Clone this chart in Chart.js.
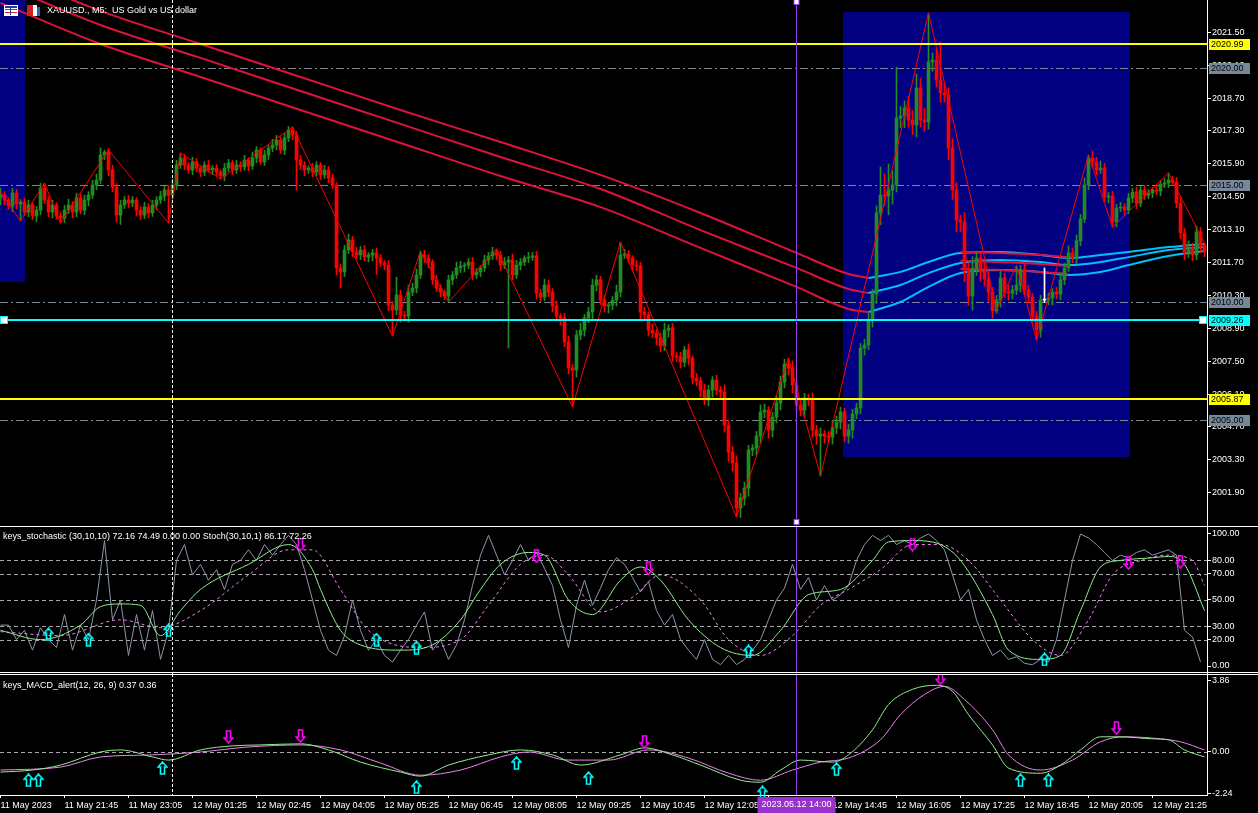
<!DOCTYPE html>
<html>
<head>
<meta charset="utf-8">
<script src="https://cdn.jsdelivr.net/npm/chart.js@4.4.1/dist/chart.umd.min.js"></script>
<style>
html, body { margin: 0; padding: 0; background: #000; width: 1258px; height: 813px; overflow: hidden; }
.pane { position: absolute; left: 0; width: 1258px; }
canvas { display: block; }
</style>
</head>
<body>
<div class="pane" style="top:0;height:527px"><canvas id="mainChart" width="1258" height="527"></canvas></div>
<div class="pane" style="top:527px;height:147px"><canvas id="stochChart" width="1258" height="147"></canvas></div>
<div class="pane" style="top:674px;height:139px"><canvas id="macdChart" width="1258" height="139"></canvas></div>
<script>
// XAUUSD M5, 11 May 20:25 -> 12 May 22:30, one entry per bar
const closes = [
  2014.57,2014.36,2014.11,2014.66,2014.19,2014.28,2013.85,2014.15,2013.68,2013.93,
  2014.87,2014.36,2013.85,2014.15,2013.68,2013.59,2013.93,2014.15,2013.85,2014.45,
  2013.93,2014.36,2014.57,2015.00,2015.21,2016.28,2016.40,2015.64,2014.91,2013.72,
  2014.15,2014.36,2014.23,2014.36,2013.93,2013.72,2014.06,2013.81,2014.15,2014.36,
  2014.53,2014.79,2014.57,2015.00,2015.85,2016.15,2015.85,2015.64,2015.98,2015.72,
  2015.55,2015.85,2015.64,2015.72,2015.55,2015.38,2015.72,2015.94,2015.64,2015.85,
  2015.77,2016.06,2015.81,2016.15,2016.49,2015.98,2016.28,2016.57,2016.70,2016.91,
  2016.49,2017.00,2017.34,2017.13,2016.06,2015.85,2015.64,2015.72,2015.55,2015.85,
  2015.43,2015.64,2015.30,2015.00,2011.47,2011.30,2012.23,2012.66,2012.15,2012.02,
  2012.23,2011.93,2012.02,2012.11,2011.89,2011.68,2011.59,2009.89,2009.68,2010.32,
  2009.47,2009.42,2010.44,2010.61,2011.17,2012.02,2011.89,2011.72,2010.96,2010.61,
  2010.44,2010.27,2010.96,2011.17,2011.47,2011.55,2011.59,2011.72,2011.17,2011.30,
  2011.47,2011.81,2011.98,2012.15,2012.02,2011.59,2011.72,2011.81,2011.17,2011.59,
  2011.72,2011.89,2011.93,2011.98,2010.40,2010.23,2010.74,2010.44,2009.85,2009.42,
  2009.34,2008.32,2007.21,2007.12,2008.61,2008.82,2009.34,2009.59,2010.74,2010.96,
  2010.10,2009.85,2009.89,2010.10,2010.44,2012.02,2012.06,2011.89,2011.59,2011.55,
  2009.59,2009.47,2008.82,2008.70,2008.49,2008.15,2008.82,2008.91,2007.72,2007.68,
  2007.46,2007.98,2007.63,2006.78,2006.66,2006.27,2005.85,2006.27,2006.70,2006.27,
  2006.19,2004.78,2003.63,2003.17,2001.25,2001.67,2002.10,2003.72,2003.80,2004.31,
  2005.34,2005.42,2004.57,2005.12,2005.72,2006.61,2007.38,2007.21,2006.49,2005.63,
  2005.42,2005.93,2005.85,2004.57,2004.31,2004.40,2004.31,2004.27,2004.66,2004.91,
  2005.34,2004.31,2004.57,2005.25,2005.51,2008.06,2008.19,2009.25,2010.36,2013.81,
  2014.57,2014.53,2014.79,2015.00,2017.85,2017.94,2018.28,2017.77,2017.55,2019.13,
  2017.77,2017.68,2020.24,2020.32,2019.47,2018.92,2018.83,2016.57,2014.79,2013.51,
  2013.42,2011.38,2010.27,2011.45,2011.89,2011.30,2011.00,2010.44,2009.64,2010.10,
  2011.04,2010.44,2010.40,2010.53,2010.74,2011.38,2010.53,2010.23,2009.42,2008.82,
  2010.10,2010.10,2010.19,2010.44,2010.36,2010.96,2011.47,2012.11,2011.89,2012.62,
  2013.55,2015.00,2016.15,2015.98,2015.64,2015.72,2014.49,2014.53,2013.42,2014.02,
  2014.06,2013.93,2014.45,2014.70,2014.23,2014.79,2014.57,2014.66,2014.79,2014.74,
  2015.04,2015.08,2015.21,2015.12,2014.23,2012.96,2012.11,2012.32,2012.02,2013.00,
  2012.36,2012.15
];
const firstOpen = 2014.45;
const upperWick = [
  .30,.15,.10,.20,.15,.10,.15,.20,.10,.15, .20,.21,.15,.20,.10,.15,.20,.25,.15,.20,
  .15,.20,.15,.20,.25,.30,.09,.15,.20,.15, .20,.15,.20,.15,.10,.15,.20,.15,.20,.15,
  .20,.15,.20,.25,.20,.21,.15,.10,.20,.15, .10,.15,.20,.10,.15,.10,.20,.15,.10,.20,
  .15,.20,.10,.25,.15,.10,.20,.15,.25,.20, .15,.20,.15,.13,.15,.20,.15,.10,.20,.15,
  .10,.20,.15,.15,.10,.15,.20,.25,.15,.20, .15,.20,.10,.15,.20,.15,.10,.20,.15,.76,
  .20,.15,.30,.20,.25,.17,.20,.15,.10,.20, .15,.10,.20,.15,.25,.20,.10,.15,.20,.15,
  .10,.20,.15,.20,.13,.15,.20,.15,.25,.20, .15,.10,.20,.15,.20,.15,.25,.20,.15,.20,
  .10,.20,.25,.15,.20,.30,.15,.20,.25,.20, .15,.20,.10,.15,.30,.55,.20,.15,.10,.20,
  .15,.20,.10,.25,.15,.20,.30,.15,.20,.15, .20,.15,.25,.10,.20,.15,.25,.20,.15,.20,
  .15,.30,.20,.25,.30,.20,.25,.20,.15,.20, .30,.25,.15,.20,.30,.25,.20,.25,.30,.20,
  .25,.20,.15,.30,.20,.25,.15,.20,.30,.25, .20,.15,.25,.20,.20,.20,.25,.30,.20,.30,
  1.20,.90,1.10,.60,2.17,.40,.30,.50,.40,.60, .40,.50,2.08,.30,.50,1.62,.40,.30,.40,.30,
  .20,.40,.30,.50,.30,.20,.40,.30,.20,.20, .30,.20,.30,.20,.80,.20,.30,.20,.15,.20,
  .20,1.37,.20,.15,.20,.30,.20,.30,.20,.25, .20,.30,.13,.30,.20,.30,.20,.15,.20,.15,
  .20,.15,.20,.15,.20,.15,.20,.15,.10,.20, .15,.20,.30,.15,.20,.25,.20,.30,.20,.25,
  .20,.15
];
const lowerWick = [
  .30,.20,.15,.25,.20,.72,.15,.20,.15,.25, .20,.15,.20,.25,.15,.21,.20,.15,.25,.20,
  .15,.20,.25,.15,.20,.15,.20,.25,.20,.30, .40,.15,.20,.15,.25,.20,.15,.20,.15,.20,
  .15,.20,1.19,.15,.20,.15,.20,.15,.20,.15, .20,.15,.10,.20,.15,.13,.20,.15,.20,.15,
  .20,.15,.20,.15,.20,.10,.15,.20,.15,.20, .15,.20,.15,.20,1.27,.20,.25,.15,.20,.15,
  .20,.15,.20,.15,.30,.69,.20,.15,.20,.15, .20,.15,.20,.25,.70,.15,.20,.25,1.11,.20,
  .30,.20,.25,.15,.20,.15,.20,.25,.20,.15, .20,.15,.25,.20,.15,.20,.25,.15,.20,.15,
  .20,.15,.20,.15,.20,.25,.15,3.66,.20,.15, .20,.15,.20,.15,.25,.20,.15,.20,.25,.20,
  .30,.20,.25,1.57,.30,.20,.25,.20,.30,.25, .20,.25,.30,.20,.25,.20,.15,.20,.25,.20,
  .30,.20,.25,.20,.30,.25,.20,.30,.25,.20, .25,.20,.30,.25,.20,.30,.20,.25,.30,.20,
  .25,.30,.40,.35,.38,.40,.30,.35,.25,.30, .30,.25,.35,.30,.25,.30,.25,.30,.35,.30,
  .25,.30,.25,.30,.35,1.70,.30,.25,.30,.25, .30,.25,.30,.35,.20,.25,.30,.20,.30,.40,
  .50,.40,.80,.60,.30,.40,.50,.30,.40,.50, .30,.40,.30,.40,.30,.40,.30,.50,.40,.50,
  .40,.50,.40,.60,.30,.40,.30,.40,.30,.10, .30,.20,.30,.25,.20,.30,.20,.25,.30,.42,
  .30,.10,.20,.30,.20,.25,.20,.15,.20,.25, .20,.15,.20,.25,.20,.15,.20,.25,.21,.20,
  .15,.20,.15,.20,.25,.15,.20,.15,.20,.15, .20,.15,.20,.15,.20,.25,.30,.20,.25,.20,
  .25,.20
];

// moving average envelopes (bar index, price)
const redBars = [0, 25, 50, 75, 100, 125, 150, 175, 199, 212, 217];
const redTop = [2024.15, 2022.41, 2021.00, 2019.60, 2018.19, 2016.83, 2015.43, 2013.81, 2012.11, 2011.21, 2011.04];
const redMid = [2023.56, 2021.81, 2020.41, 2019.00, 2017.60, 2016.19, 2014.83, 2013.08, 2011.47, 2010.57, 2010.40];
const redLow = [2022.75, 2021.00, 2019.60, 2018.19, 2016.79, 2015.38, 2014.06, 2012.32, 2010.66, 2009.72, 2009.59];
const blueBars = [217, 225, 232, 240, 250, 260, 267, 275, 282, 292, 301];
const blueTop = [2011.04, 2011.30, 2011.72, 2012.11, 2012.15, 2012.02, 2011.89, 2012.02, 2012.15, 2012.36, 2012.49];
const blueMid = [2010.40, 2010.74, 2011.25, 2011.68, 2011.81, 2011.72, 2011.59, 2011.72, 2011.93, 2012.23, 2012.36];
const blueLow = [2009.59, 2010.02, 2010.66, 2011.25, 2011.38, 2011.30, 2011.17, 2011.30, 2011.59, 2011.98, 2012.19];
const red2Bars = [240, 250, 260, 267];
const red2Top = [2012.15, 2012.11, 2012.02, 2011.93];
const red2Mid = [2011.77, 2011.72, 2011.64, 2011.55];
const red2Low = [2011.42, 2011.38, 2011.30, 2011.21];

// zigzag swing points
const zzBars = [0, 5, 11, 15, 27, 42, 45, 55, 73, 98, 105, 112, 124, 143, 155, 184, 197, 205, 232, 249, 254, 259, 272, 278, 292, 301.5];
const zzPrices = [2014.70, 2013.47, 2015.08, 2013.38, 2016.49, 2013.38, 2016.36, 2015.25, 2017.47, 2008.57, 2012.19, 2010.02, 2012.28, 2005.55, 2012.57, 2000.87, 2007.63, 2002.61, 2022.32, 2009.68, 2011.59, 2008.40, 2016.28, 2013.21, 2015.51, 2012.36];

// drawn objects
const boxFrom = [-0.125, 210.6];
const boxTo = [6.1, 282.4];
const boxTop = [2023.0, 2022.36];
const boxBottom = [2010.87, 2003.42];
const yellowLevels = [2020.99, 2005.87];
const cyanLevel = 2009.26;
const roundLevels = [2020.00, 2015.00, 2010.00, 2005.00];
const separatorBar = 43.1;
const markerBar = 199;
const markerLabel = '2023.05.12 14:00';

// axis ticks
const priceTicks = [2001.9, 2003.3, 2004.7, 2006.1, 2007.5, 2008.9, 2010.3, 2011.7, 2013.1, 2014.5, 2015.9, 2017.3, 2018.7, 2020.1, 2021.5];
const stochTicks = [0, 20, 30, 50, 70, 80, 100];
const stochLevels = [20, 30, 50, 70, 80];
const macdTicks = [-2.24, 0, 3.86];
const timeTickBars = [0, 16, 32, 48, 64, 80, 96, 112, 128, 144, 160, 176, 192, 208, 224, 240, 256, 272, 288];
const timeLabels = ['11 May 2023', '11 May 21:45', '11 May 23:05', '12 May 01:25', '12 May 02:45', '12 May 04:05', '12 May 05:25', '12 May 06:45', '12 May 08:05', '12 May 09:25', '12 May 10:45', '12 May 12:05', '12 May 13:25', '12 May 14:45', '12 May 16:05', '12 May 17:25', '12 May 18:45', '12 May 20:05', '12 May 21:25'];

// stochastic: raw line every 2 bars, %K and %D at swing points
const stochRaw = [
  31,31,20,27,12,29,20,14,39,12, 31,20,50,95,35,50,8,39,12,42,
  5,27,80,92,69,77,65,73,58,77, 80,88,80,92,84,92,99,92,73,50,
  27,12,8,23,50,27,12,20,8,3, 12,20,31,41,12,20,5,16,35,61,
  84,99,84,69,80,92,80,86,74,61, 35,14,46,65,46,59,73,82,77,67,
  56,64,42,31,39,20,12,5,20,5, 1,8,1,5,12,20,35,50,59,77,
  58,67,50,61,50,54,61,80,92,99, 95,99,92,95,92,97,100,95,88,69,
  50,58,35,20,8,12,5,7,2,1, 5,3,20,50,80,100,97,92,86,80,
  84,82,86,88,84,86,88,84,27,22, 3
];
const kBars = [0,10,20,25,30,35,40,45,50,62,72,78,80,85,90,100,108,115,120,125,132,136,142,148,155,160,165,172,180,188,195,202,210,218,222,228,235,240,248,252,260,265,270,275,280,288,292,296,301];
const kValues = [27,20,31,45,47,46,23,42,58,77,92,73,58,27,16,12,16,35,58,77,86,84,50,39,65,75,65,35,14,8,27,54,58,80,94,95,92,80,39,12,5,8,42,75,80,82,83,77,42];
const dBars = [0,15,30,40,50,62,72,78,85,92,105,115,122,130,136,142,150,158,165,175,182,190,198,205,212,220,228,235,242,250,258,265,272,278,285,292,298,301];
const dValues = [26,23,35,29,42,69,88,88,58,27,14,20,46,77,84,69,41,52,69,50,20,8,23,46,58,73,92,92,80,50,20,8,35,69,80,84,80,61];
const stochUpBars = [12, 22, 42, 94, 104, 187, 261];
const stochUpVals = [24, 20, 27, 20, 14, 11, 5];
const stochDnBars = [75, 134, 162, 228, 282, 295];
const stochDnVals = [92, 83, 74, 92, 78, 79];

// MACD
const macdBars = [0,8,15,25,30,38,42,50,58,65,75,82,90,100,105,112,122,130,138,145,155,161,168,175,185,190,195,200,208,212,218,222,228,234,238,242,248,252,260,265,270,275,280,288,292,296,301];
const macdMain = [-1.09,-0.98,-0.71,0,0.11,-0.27,-0.44,0.11,0.33,0.38,0.44,0.11,-0.55,-1.09,-1.31,-0.71,-0.16,0.11,-0.16,-0.71,-0.16,0.22,-0.16,-0.71,-1.53,-1.64,-0.98,-0.44,-0.55,-0.16,1.2,2.57,3.39,3.61,3.28,2.02,0.38,-0.87,-1.15,-0.71,0.11,0.82,0.82,0.71,0.66,0.11,-0.27];
const signalBars = [0,15,25,38,50,62,75,85,95,105,115,125,132,142,152,162,172,182,190,198,205,212,220,225,231,236,241,248,252,260,268,275,281,290,295,301];
const macdSignal = [-0.98,-0.82,-0.27,-0.16,0,0.27,0.38,0.11,-0.6,-1.26,-0.98,-0.27,0,-0.44,-0.44,0.11,-0.33,-1.15,-1.53,-0.98,-0.55,-0.33,0.66,2.02,3.11,3.55,2.84,1.2,-0.16,-0.98,-0.44,0.55,0.82,0.71,0.55,0.11];
const macdUpBars = [7, 9.5, 40.5, 104, 129, 147, 190.5, 209, 255, 262];
const macdUpVals = [-1.53, -1.53, -0.87, -1.91, -0.6, -1.42, -2.19, -0.93, -1.53, -1.53];
const macdDnBars = [57, 75, 161, 235, 279];
const macdDnVals = [0.82, 0.87, 0.55, 3.99, 1.31];

const X_MIN = -0.125, X_MAX = 301.625;
const FONT_FAMILY = '"Liberation Sans", Arial, sans-serif';
const FONT = '9px ' + FONT_FAMILY;

const opens = closes.map((c, i) => i === 0 ? firstOpen : closes[i - 1]);
const highs = closes.map((c, i) => Math.max(opens[i], c) + upperWick[i]);
const lows = closes.map((c, i) => Math.min(opens[i], c) - lowerWick[i]);
const candleColors = closes.map((c, i) => c > opens[i] ? '#228b22' : (c < opens[i] ? '#ff0000' : '#ffffff'));

function pts(xs, ys) {
  return xs.map((x, i) => ({ x: x, y: ys[i] }));
}

function lineSet(xs, ys, color, width, order, extra) {
  return Object.assign({
    type: 'line', data: pts(xs, ys), borderColor: color, borderWidth: width,
    pointRadius: 0, cubicInterpolationMode: 'monotone', order: order
  }, extra || {});
}

function makeArrow(color, up) {
  const c = document.createElement('canvas');
  c.width = 11; c.height = 14;
  const g = c.getContext('2d');
  g.strokeStyle = color; g.lineWidth = 1.6;
  const p = up
    ? [[5.5, 1], [10, 6], [7.5, 6], [7.5, 13], [3.5, 13], [3.5, 6], [1, 6]]
    : [[5.5, 13], [10, 8], [7.5, 8], [7.5, 1], [3.5, 1], [3.5, 8], [1, 8]];
  g.beginPath();
  p.forEach(([a, b], i) => i ? g.lineTo(a, b) : g.moveTo(a, b));
  g.closePath();
  g.stroke();
  return c;
}
const arrowUp = makeArrow('#00ffff', true);
const arrowDown = makeArrow('#ff00ff', false);

function arrowSet(xs, ys, img) {
  return { type: 'line', showLine: false, data: pts(xs, ys), pointStyle: img, pointRadius: 6, clip: false, order: 1 };
}

function xAxis(show) {
  const axis = { type: 'linear', min: X_MIN, max: X_MAX, offset: false, bounds: 'data', display: show };
  if (show) {
    Object.assign(axis, {
      afterBuildTicks: s => { s.ticks = timeTickBars.map(v => ({ value: v })); },
      afterFit: s => { s.height = 18; s.paddingLeft = 0; s.paddingRight = 0; },
      border: { display: true, color: '#ffffff', width: 1 },
      grid: { drawOnChartArea: false, drawTicks: true, tickLength: 3, color: '#ffffff' },
      ticks: {
        color: '#ffffff', font: { family: FONT_FAMILY, size: 9 }, padding: 2, autoSkip: false,
        maxRotation: 0, align: 'start', callback: v => timeLabels[timeTickBars.indexOf(v)]
      }
    });
  }
  return axis;
}

function rightAxis(min, max, tickVals) {
  return {
    position: 'right', min: min, max: max, bounds: 'data',
    afterBuildTicks: s => { s.ticks = tickVals.map(v => ({ value: v })); },
    afterFit: s => { s.width = 51; s.paddingTop = 0; s.paddingBottom = 0; },
    border: { display: true, color: '#ffffff', width: 1 },
    grid: { drawOnChartArea: false, drawTicks: true, tickLength: 4, color: '#ffffff' },
    ticks: { color: '#ffffff', font: { family: FONT_FAMILY, size: 9 }, padding: 1, autoSkip: false, callback: v => v.toFixed(2) }
  };
}

function drawVLines(chart) {
  const { ctx, chartArea: a, scales: { x } } = chart;
  ctx.save();
  ctx.lineWidth = 1;
  const xs = Math.floor(x.getPixelForValue(separatorBar)) + 0.5;
  ctx.strokeStyle = '#ffffff';
  ctx.setLineDash([3, 2]);
  ctx.beginPath(); ctx.moveTo(xs, a.top); ctx.lineTo(xs, a.bottom); ctx.stroke();
  const xm = Math.floor(x.getPixelForValue(markerBar)) + 0.5;
  ctx.setLineDash([]);
  ctx.strokeStyle = '#9a3df0';
  ctx.beginPath(); ctx.moveTo(xm, a.top); ctx.lineTo(xm, a.bottom); ctx.stroke();
  ctx.restore();
}

function drawLevels(chart, values, color, dash) {
  const { ctx, chartArea: a, scales: { y } } = chart;
  ctx.save();
  ctx.strokeStyle = color; ctx.lineWidth = 1; ctx.setLineDash(dash);
  values.forEach(v => {
    const py = Math.round(y.getPixelForValue(v)) + 0.5;
    ctx.beginPath(); ctx.moveTo(a.left, py); ctx.lineTo(a.right, py); ctx.stroke();
  });
  ctx.restore();
}

function square(ctx, cx, cy, size, border) {
  ctx.fillStyle = border;
  ctx.fillRect(cx - size / 2 - 1, cy - size / 2 - 1, size + 2, size + 2);
  ctx.fillStyle = '#ffffff';
  ctx.fillRect(cx - size / 2, cy - size / 2, size, size);
}

const mainOverlay = {
  id: 'mainOverlay',
  beforeDatasetsDraw(chart) {
    const { ctx, chartArea: a, scales: { x, y } } = chart;
    ctx.save();
    ctx.beginPath(); ctx.rect(a.left, a.top, a.right - a.left, a.bottom - a.top); ctx.clip();
    ctx.fillStyle = '#000080';
    boxFrom.forEach((b, i) => {
      const x1 = x.getPixelForValue(boxFrom[i]), x2 = x.getPixelForValue(boxTo[i]);
      const y1 = y.getPixelForValue(boxTop[i]), y2 = y.getPixelForValue(boxBottom[i]);
      ctx.fillRect(Math.round(x1), Math.round(y1), Math.round(x2 - x1), Math.round(y2 - y1));
    });
    ctx.restore();
    drawLevels(chart, roundLevels, '#778899', [8, 3, 2, 3]);
  },
  afterDatasetsDraw(chart) {
    const { ctx, chartArea: a, scales: { y } } = chart;
    ctx.save();
    ctx.lineWidth = 2;
    ctx.strokeStyle = '#ffff00';
    yellowLevels.forEach(v => {
      const py = Math.round(y.getPixelForValue(v));
      ctx.beginPath(); ctx.moveTo(a.left, py); ctx.lineTo(a.right, py); ctx.stroke();
    });
    ctx.strokeStyle = '#00ffff';
    const pc = Math.round(y.getPixelForValue(cyanLevel));
    ctx.beginPath(); ctx.moveTo(a.left, pc); ctx.lineTo(a.right, pc); ctx.stroke();
    ctx.restore();
    drawVLines(chart);
  },
  afterDraw(chart) {
    const { ctx, chartArea: a, scales: { x, y } } = chart;
    ctx.save();
    // price labels on the axis
    const tags = [
      [2020.00, '#778899'], [2015.00, '#778899'], [2010.00, '#778899'], [2005.00, '#778899'],
      [yellowLevels[0], '#ffff00'], [yellowLevels[1], '#ffff00'], [cyanLevel, '#00ffff']
    ];
    ctx.font = FONT;
    ctx.textBaseline = 'middle';
    tags.forEach(([v, bg]) => {
      const py = Math.round(y.getPixelForValue(v));
      ctx.fillStyle = bg;
      ctx.fillRect(a.right + 2, py - 5, 41, 11);
      ctx.fillStyle = '#000000';
      ctx.fillText(v.toFixed(2), a.right + 4, py + 0.5);
    });
    // handles on the cyan line and the vertical marker
    const pc = Math.round(y.getPixelForValue(cyanLevel));
    square(ctx, 4, pc, 6, '#00ffff');
    square(ctx, a.right - 4, pc, 6, '#00ffff');
    const xm = Math.floor(x.getPixelForValue(markerBar)) + 0.5;
    square(ctx, xm, 2, 4, '#9a3df0');
    square(ctx, xm, 522, 4, '#9a3df0');
    // title and icons
    ctx.fillStyle = '#ffffff';
    ctx.fillRect(4, 5, 14, 11);
    ctx.fillStyle = '#1e3c9c';
    ctx.fillRect(5, 6, 12, 2);
    ctx.fillStyle = '#d02020';
    ctx.fillRect(5, 9, 12, 1); ctx.fillRect(5, 12, 12, 1);
    ctx.fillStyle = '#1e3c9c';
    ctx.fillRect(10, 8, 1, 7);
    ctx.fillStyle = '#d02020';
    ctx.fillRect(27, 5, 6, 11);
    ctx.fillStyle = '#ffffff';
    ctx.fillRect(33, 5, 4, 11);
    ctx.fillStyle = '#3060c0';
    ctx.fillRect(37, 7, 3, 9);
    ctx.fillStyle = '#ffffff';
    ctx.fillText('XAUUSD., M5:  US Gold vs US dollar', 47, 11);
    // pane separator
    ctx.fillRect(0, 526, 1258, 1);
    ctx.restore();
  }
};

const stochOverlay = {
  id: 'stochOverlay',
  beforeDatasetsDraw(chart) {
    drawLevels(chart, stochLevels, '#a8a8a8', [4, 3]);
  },
  afterDatasetsDraw(chart) { drawVLines(chart); },
  afterDraw(chart) {
    const { ctx } = chart;
    ctx.save();
    ctx.font = FONT;
    ctx.textBaseline = 'middle';
    ctx.fillStyle = '#ffffff';
    ctx.fillText('keys_stochastic (30,10,10) 72.16 74.49 0.00 0.00 Stoch(30,10,1) 86.17 72.26', 3, 10);
    ctx.fillRect(0, 145, 1258, 1);
    ctx.restore();
  }
};

const macdOverlay = {
  id: 'macdOverlay',
  beforeDatasetsDraw(chart) {
    drawLevels(chart, [0], '#a8a8a8', [4, 3]);
  },
  afterDatasetsDraw(chart) { drawVLines(chart); },
  afterDraw(chart) {
    const { ctx, chartArea: a, scales: { x } } = chart;
    ctx.save();
    ctx.font = FONT;
    ctx.textBaseline = 'middle';
    ctx.fillStyle = '#ffffff';
    ctx.fillText('keys_MACD_alert(12, 26, 9) 0.37 0.36', 3, 12);
    ctx.fillRect(0, 0, 1258, 1);
    const xm = Math.floor(x.getPixelForValue(markerBar)) + 0.5;
    ctx.fillStyle = '#9932cc';
    ctx.fillRect(xm - 39, a.bottom + 2, 78, 16);
    ctx.fillStyle = '#ffffff';
    ctx.textAlign = 'center';
    ctx.fillText(markerLabel, xm, a.bottom + 10);
    ctx.restore();
  }
};

const baseOptions = {
  responsive: false, animation: false, devicePixelRatio: 1, events: [],
  layout: { padding: 0, autoPadding: false },
  plugins: { legend: { display: false }, tooltip: { enabled: false } }
};

const barIdx = closes.map((c, i) => i);

new Chart(document.getElementById('mainChart'), {
  type: 'bar',
  data: {
    datasets: [
      lineSet(redBars, redTop, '#dc143c', 2, 9),
      lineSet(redBars, redMid, '#dc143c', 2, 9),
      lineSet(redBars, redLow, '#dc143c', 2, 9),
      lineSet(blueBars, blueTop, '#00bfff', 2, 8),
      lineSet(blueBars, blueMid, '#00bfff', 2, 8),
      lineSet(blueBars, blueLow, '#00bfff', 2, 8),
      lineSet(red2Bars, red2Top, '#dc143c', 2, 7),
      lineSet(red2Bars, red2Mid, '#dc143c', 2, 7),
      lineSet(red2Bars, red2Low, '#dc143c', 2, 7),
      {
        type: 'bar', data: barIdx.map(i => ({ x: i, y: [lows[i], highs[i]] })),
        backgroundColor: candleColors, barThickness: 1, grouped: false, minBarLength: 1, order: 5
      },
      {
        type: 'bar', data: barIdx.map(i => ({ x: i, y: [opens[i], closes[i]] })),
        backgroundColor: candleColors, barThickness: 3, grouped: false, minBarLength: 1, order: 4
      },
      lineSet(zzBars, zzPrices, '#ff0000', 1, 3, { cubicInterpolationMode: 'default', tension: 0 })
    ]
  },
  options: Object.assign({}, baseOptions, {
    scales: { x: xAxis(false), y: rightAxis(2000.441, 2022.875, priceTicks) }
  }),
  plugins: [mainOverlay]
});

new Chart(document.getElementById('stochChart'), {
  type: 'line',
  data: {
    datasets: [
      lineSet(stochRaw.map((v, i) => i * 2), stochRaw, '#8a98aa', 1, 6, { cubicInterpolationMode: 'default', tension: 0 }),
      lineSet(dBars, dValues, '#ee82ee', 1, 5, { borderDash: [3, 3] }),
      lineSet(kBars, kValues, '#90ee90', 1, 4),
      arrowSet(stochUpBars, stochUpVals, arrowUp),
      arrowSet(stochDnBars, stochDnVals, arrowDown)
    ]
  },
  options: Object.assign({}, baseOptions, {
    scales: { x: xAxis(false), y: rightAxis(-6.06, 105.3, stochTicks) }
  }),
  plugins: [stochOverlay]
});

new Chart(document.getElementById('macdChart'), {
  type: 'line',
  data: {
    datasets: [
      lineSet(signalBars, macdSignal, '#ee82ee', 1, 5),
      lineSet(macdBars, macdMain, '#90ee90', 1, 4),
      arrowSet(macdUpBars, macdUpVals, arrowUp),
      arrowSet(macdDnBars, macdDnVals, arrowDown)
    ]
  },
  options: Object.assign({}, baseOptions, {
    scales: { x: xAxis(true), y: rightAxis(-2.33, 4.22, macdTicks) }
  }),
  plugins: [macdOverlay]
});
</script>
</body>
</html>
